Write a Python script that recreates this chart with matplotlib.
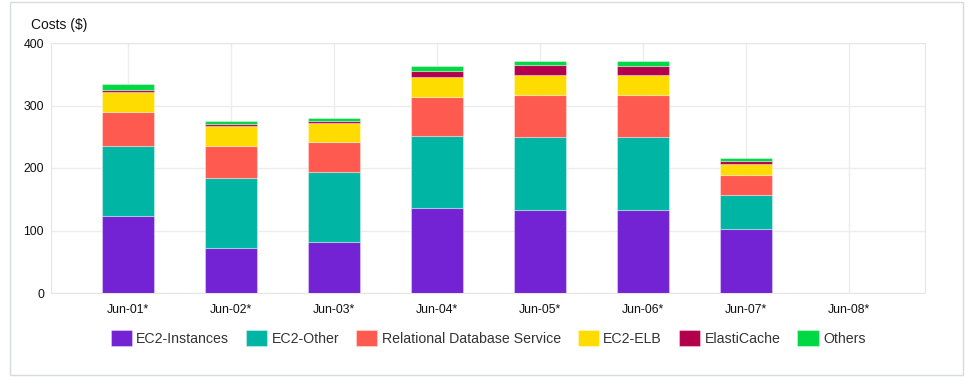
import matplotlib
matplotlib.use("Agg")
import matplotlib.pyplot as plt
from matplotlib.patches import Rectangle
import numpy as np

plt.rcParams['font.family'] = ['Liberation Sans', 'DejaVu Sans']

dias = ["Jun-01*", "Jun-02*", "Jun-03*", "Jun-04*", "Jun-05*", "Jun-06*", "Jun-07*", "Jun-08*"]

ec2Instances = [124, 72.5, 81, 136.5, 132.5, 133, 102.5, 0]
ec2Other = [112, 112, 112, 114.5, 117, 116, 54, 0]
rds = [54, 50.5, 48, 62.5, 68, 67.5, 33, 0]
ec2Elb = [32, 32, 31, 32, 32, 32, 17, 0]
elastiCache = [3, 3, 2.5, 9.5, 15, 15.5, 5, 0]
otros = [9.5, 4.5, 5.5, 8, 7, 8, 5, 0]

series = ["EC2-Instances", "EC2-Other", "Relational Database Service", "EC2-ELB", "ElastiCache", "Others"]
valores = [ec2Instances, ec2Other, rds, ec2Elb, elastiCache, otros]
colores = ["#7322d4", "#00b5a3", "#ff5a4f", "#ffdc00", "#b3004a", "#00d844"]

fig = plt.figure(figsize=(9.73, 3.85), dpi=100)
ax = fig.add_axes([51/973, 1-293/385, 874/973, 250/385])

x = np.arange(len(dias))
base = np.zeros(len(dias))
for nombre, vals, col in zip(series, valores, colores):
    ax.bar(x, vals, width=0.5, bottom=base, color=col, label=nombre,
           edgecolor=(1, 1, 1, 0.35), linewidth=0.8, zorder=3)
    base += np.array(vals)

ax.set_xlim(-0.75, 7.74)
ax.set_ylim(0, 400)
ax.set_yticks([0, 100, 200, 300, 400])
ax.set_xticks(x)
ax.set_xticklabels(dias)
ax.grid(True, color="#ececec", linewidth=1, zorder=0)
ax.tick_params(length=0, labelsize=8.8, colors="#111111", pad=5)
ax.tick_params(axis='x', pad=8)
for s in ax.spines.values():
    s.set_color("#e6e6e6")

fig.text(31/973, 1-25/385, "Costs ($)", fontsize=10, va="center", ha="left", color="#111111")

fig.legend(loc="center", bbox_to_anchor=(488/973, 1-338/385), ncol=6, frameon=False,
           fontsize=10.2, handlelength=1.5, handleheight=1.45, handletextpad=0.3,
           columnspacing=1.2, labelcolor="#333333")

fig.patches.append(Rectangle((10/973, 1-375/385), 953/973, 373/385, transform=fig.transFigure,
                             fill=False, edgecolor="#d5dcdc", linewidth=1))

plt.savefig("out.png", dpi=100)
